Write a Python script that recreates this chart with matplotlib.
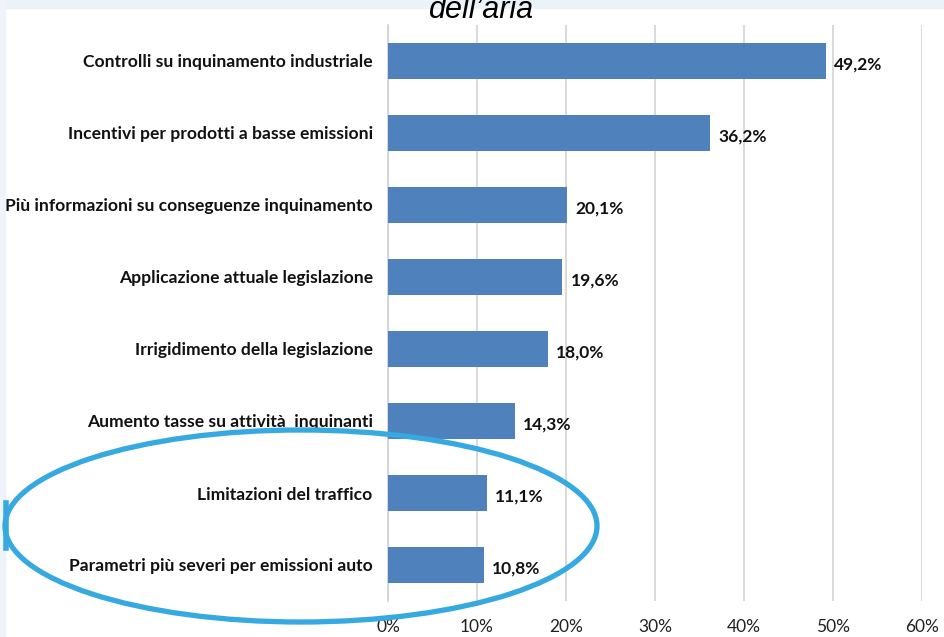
import matplotlib.pyplot as plt
from matplotlib.patches import Ellipse, Rectangle
from matplotlib.lines import Line2D

categorie = ['Controlli su inquinamento industriale',
             'Incentivi per prodotti a basse emissioni',
             'Più informazioni su conseguenze inquinamento',
             'Applicazione attuale legislazione',
             'Irrigidimento della legislazione',
             'Aumento tasse su attività  inquinanti',
             'Limitazioni del traffico',
             'Parametri più severi per emissioni auto']
valori = [49.2, 36.2, 20.1, 19.6, 18.0, 14.3, 11.1, 10.8]
tick_val = [0, 10, 20, 30, 40, 50, 60]

W, H = 944, 637
fig = plt.figure(figsize=(W / 100, H / 100), dpi=100)
fig.patch.set_facecolor('white')

# fascia azzurra in alto e a sinistra
fig.patches.append(Rectangle((0, 1 - 8 / H), 1, 8 / H, transform=fig.transFigure,
                             color='#EAF2FA', zorder=0))
fig.patches.append(Rectangle((0, 0), 5 / W, 1, transform=fig.transFigure,
                             color='#EEF4FA', zorder=0))

ax = fig.add_axes([388 / W, 1 - 601 / H, (922 - 388) / W, (601 - 25) / H])
y = list(range(len(categorie)))
ax.barh(y, valori, height=0.5, color='#4F81BD', zorder=3)
ax.set_ylim(len(categorie) - 0.5, -0.5)
ax.set_xlim(0, 60)
ax.set_xticks(tick_val)
ax.set_xticklabels([f'{v}%' for v in tick_val], fontsize=12.5, family='Lato',
                   color='#222222')
ax.set_yticks(y)
ax.set_yticklabels(categorie, fontsize=12.6, family='Lato',
                   fontweight='bold', color='#111111')
ax.tick_params(axis='y', length=0, pad=11)
ax.tick_params(axis='x', length=0, pad=13)
ax.grid(axis='x', color='#D9D9D9', linewidth=1.4, zorder=0)
for s in ['top', 'right', 'bottom']:
    ax.spines[s].set_visible(False)
ax.spines['left'].set_color('#D0D0D0')
ax.spines['left'].set_linewidth(1.2)

for yi, v in zip(y, valori):
    ax.text(v + 0.9, yi + 0.05, f'{v:.1f}%'.replace('.', ','), va='center', ha='left',
            fontsize=12.5, family='Lato', fontweight='bold', color='#111111')

fig.text(482 / W, 1 - 18 / H, "dell\u2019aria", ha='center', va='baseline',
         fontsize=22, family='Liberation Sans', style='italic', color='black')

# ellisse azzurra
ell = Ellipse((301 / W, 1 - 526 / H), 592 / W, 192 / H, transform=fig.transFigure,
              fill=False, edgecolor='#36A9E1', linewidth=3.8, zorder=10)
fig.patches.append(ell)
fig.lines.append(Line2D([6 / W, 6 / W], [1 - 503 / H, 1 - 548 / H], transform=fig.transFigure,
                        color='#36A9E1', linewidth=4))

fig.savefig('out.png', dpi=100)
